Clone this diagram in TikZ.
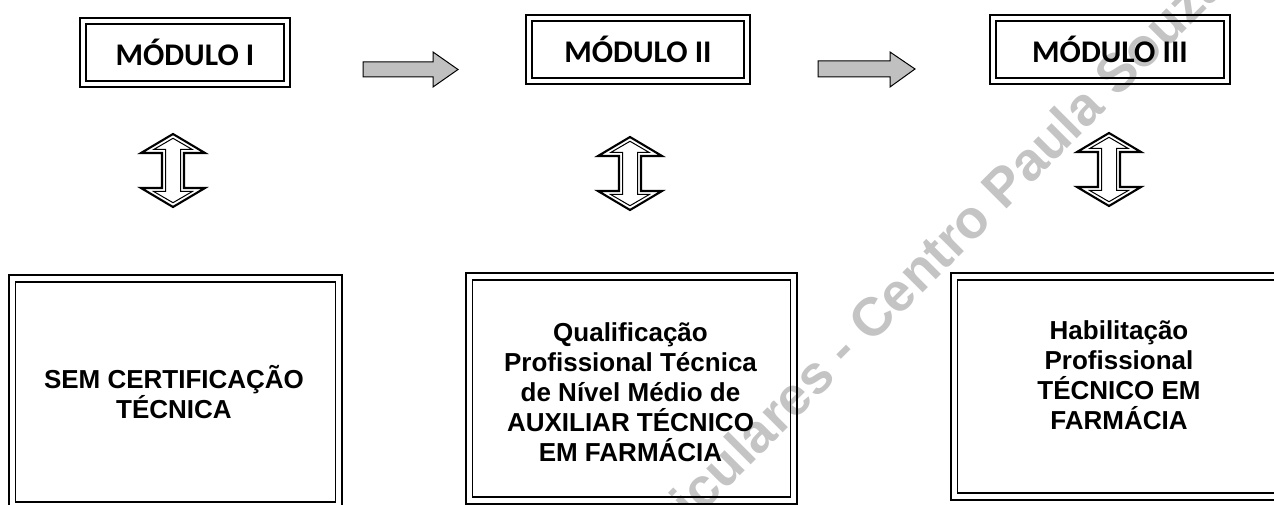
\documentclass[tikz,border=0pt]{standalone}
\usepackage{fontspec}
\setmainfont{Liberation Sans}
\newfontfamily\calfont{Carlito}
\newfontfamily\arfont{Liberation Sans}
\definecolor{arrowgray}{HTML}{C0C0C0}
\definecolor{wmgray}{HTML}{C4C4C4}
\tikzset{
  modbox/.style={draw, line width=1.4pt, inner sep=0pt, outer sep=0pt},
  botbox/.style={draw, line width=2.6pt, inner sep=0pt, outer sep=0pt},
  innermod/.style={line width=2.4pt},
  innerbot/.style={line width=1.4pt},
  modtext/.style={font=\calfont\bfseries\fontsize{31.5}{36}\selectfont},
  bottext/.style={font=\arfont\bfseries\fontsize{26}{30}\selectfont, align=center},
  grayarrow/.style={draw, fill=arrowgray, line width=1pt, line join=miter},
  updown/.pic={
    \draw[line width=2.1pt, line join=miter] (0,0) -- (32,19) -- (11,19) -- (11,54) -- (32,54) -- (0,73) -- (-32,54) -- (-11,54) -- (-11,19) -- (-32,19) -- cycle;
    \draw[line width=1pt, line join=miter] (0,4.3) -- (19.3,15.5) -- (7.5,15.5) -- (7.5,57.5) -- (19.3,57.5) -- (0,68.7) -- (-19.3,57.5) -- (-7.5,57.5) -- (-7.5,15.5) -- (-19.3,15.5) -- cycle;
  }
}
\begin{document}
\begin{tikzpicture}[x=1pt,y=-1pt]
\clip (0,0) rectangle (1274,505);
\useasboundingbox (0,0) rectangle (1274,505);
% watermark
\node[font=\arfont\bfseries\fontsize{54}{60}\selectfont, text=wmgray, rotate=45, anchor=base east, inner sep=0pt] (wm) at (1230,-14) {Curriculares - Centro Paula Souza};
% module boxes
\node[modbox, minimum width=210pt, minimum height=69pt] (m1) at (185,52.5) {};
\node[modbox, minimum width=224pt, minimum height=69pt] (m2) at (638,49.5) {};
\node[modbox, minimum width=240pt, minimum height=69pt] (m3) at (1110,49.5) {};
\foreach \m in {m1,m2,m3}{
  \draw[innermod] ([shift={(6,6)}]\m.north west) rectangle ([shift={(-6,-6)}]\m.south east);
}
\node[modtext] (m1t) at (m1.center) {MÓDULO I};
\node[modtext] (m2t) at (m2.center) {MÓDULO II};
\node[modtext] (m3t) at (m3.center) {MÓDULO III};
% gray arrows
\coordinate (a1) at (363,69.5);
\coordinate (a2) at (818,69);
\draw[grayarrow] (a1) ++(0,-7.5) -- ++(70,0) -- ++(0,-10) -- ++(25,17.5) -- ++(-25,17.5) -- ++(0,-10) -- ++(-70,0) -- cycle;
\draw[grayarrow] (a2) ++(0,-8) -- ++(72,0) -- ++(0,-9) -- ++(25,17) -- ++(-25,18) -- ++(0,-10) -- ++(-72,0) -- cycle;
% up-down arrows
\pic at (173,134) {updown};
\pic at (630,137) {updown};
\pic at (1109,133) {updown};
% bottom boxes
\node[botbox, minimum width=333pt, minimum height=234pt] (b1) at (175.5,392) {};
\node[botbox, minimum width=331pt, minimum height=231pt] (b2) at (631.5,388.5) {};
\node[botbox, minimum width=339pt, minimum height=227pt] (b3) at (1120.5,386.5) {};
\foreach \b in {b1,b2,b3}{
  \draw[innerbot] ([shift={(6.5,7)}]\b.north west) rectangle ([shift={(-6.5,-7)}]\b.south east);
}
\node[bottext] (t1) at (174,392) {SEM CERTIFICAÇÃO\\TÉCNICA};
\node[bottext] (t2) at (630.5,392) {Qualificação\\Profissional Técnica\\de Nível Médio de\\AUXILIAR TÉCNICO\\EM FARMÁCIA};
\node[bottext] (t3) at (1119,375) {Habilitação\\Profissional\\TÉCNICO EM\\FARMÁCIA};
\end{tikzpicture}
\end{document}
